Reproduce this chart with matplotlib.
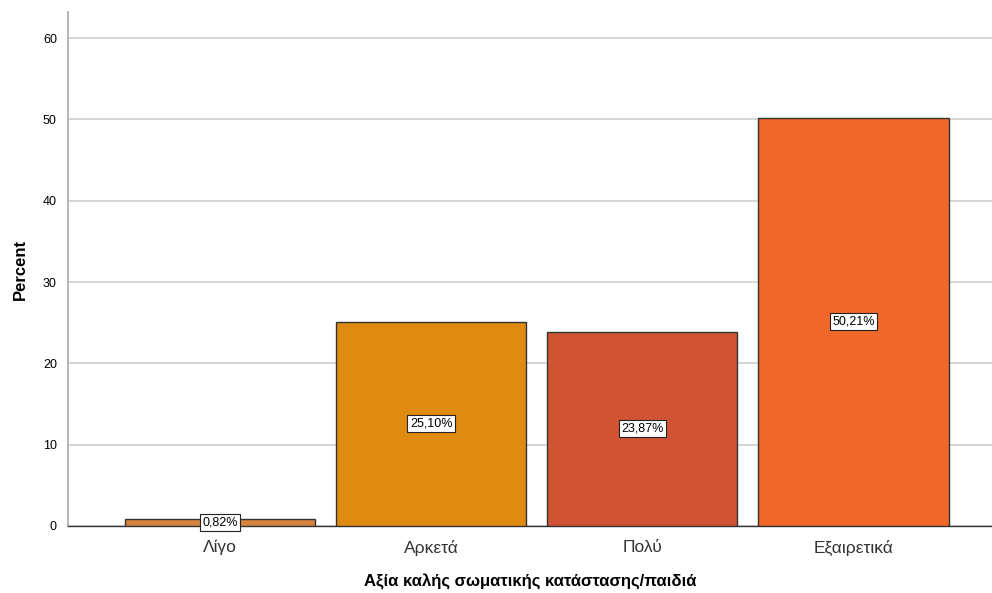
import matplotlib
matplotlib.use("Agg")
import matplotlib.pyplot as plt

categories = ["Λίγο", "Αρκετά", "Πολύ", "Εξαιρετικά"]
percents = [0.82, 25.10, 23.87, 50.21]
labels = ["0,82%", "25,10%", "23,87%", "50,21%"]
colors = ["#D4843F", "#DF8A10", "#D05434", "#F2682A"]
yticks = [0, 10, 20, 30, 40, 50, 60]

plt.rcParams['font.family'] = ['Liberation Sans', 'DejaVu Sans']

fig = plt.figure(figsize=(9.92, 5.93), dpi=100)
ax = fig.add_axes([68/992, 67/593, 1 - 68/992, (526-12)/593])

x = list(range(len(categories)))
ax.bar(x, percents, width=0.9, color=colors, edgecolor="#333333", linewidth=1.0, zorder=3)

for xi, v, lab in zip(x, percents, labels):
    ax.text(xi, v / 2, lab, ha="center", va="center", fontsize=9, zorder=4,
            bbox=dict(boxstyle="square,pad=0.2", facecolor="white", edgecolor="#222222", linewidth=0.8))

ax.set_xlim(-0.72, 3.656)
ax.set_ylim(0, 63.2)
ax.set_yticks(yticks)
ax.set_yticklabels([str(t) for t in yticks], fontsize=9)
ax.set_xticks(x)
ax.set_xticklabels(categories, fontsize=12.5, color="#333333")
ax.tick_params(axis="both", length=0)
ax.tick_params(axis="y", pad=8)
ax.tick_params(axis="x", pad=10)

ax.grid(axis="y", color="#D0D0D0", linewidth=1.2, zorder=0)
ax.set_axisbelow(True)
for s in ["top", "right"]:
    ax.spines[s].set_visible(False)
ax.spines["left"].set_color("#AAAAAA")
ax.spines["left"].set_linewidth(1.2)
ax.spines["bottom"].set_color("#333333")
ax.spines["bottom"].set_linewidth(1.0)

ax.set_ylabel("Percent", fontsize=12, fontweight="bold", labelpad=11)
ax.set_xlabel("Αξία καλής σωματικής κατάστασης/παιδιά", fontsize=12, fontweight="bold", labelpad=13)

fig.savefig("out.png", dpi=100)
